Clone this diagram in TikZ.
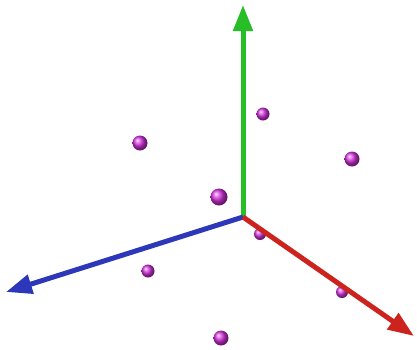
\documentclass[tikz,border=0pt]{standalone}
\usepackage{tikz}
\usetikzlibrary{arrows.meta}
\definecolor{atomcol}{RGB}{215,50,225}
\definecolor{axred}{RGB}{205,35,30}
\definecolor{axgreen}{RGB}{40,190,40}
\definecolor{axblue}{RGB}{45,55,185}
\begin{document}
\begin{tikzpicture}[x=1pt,y=-1pt,
  atom/.style={circle,inner sep=0pt,minimum size=#1,ball color=atomcol},
  atom/.default=13pt,
  axis/.style={line width=5pt,-{Triangle[length=26pt,width=19pt]}}]
\useasboundingbox (0,0) rectangle (417,349);
\coordinate (O) at (243,217);
\coordinate (xtip) at (414,336);
\coordinate (ytip) at (243,5);
\coordinate (ztip) at (6,292);
\node[atom=12pt] (a5) at (260,234) {};
\node[atom=12pt] (a7) at (342,292) {};
\draw[axis,axgreen] (O)--(ytip);
\draw[axis,axblue] (O)--(ztip);
\draw[axis,axred] (O)--(xtip);
\node[atom=13pt] (a1) at (263,114) {};
\node[atom=15pt] (a2) at (140,143) {};
\node[atom=15pt] (a3) at (352,159) {};
\node[atom=17pt] (a4) at (219,197) {};
\node[atom=13pt] (a6) at (148,271) {};
\node[atom=15pt] (a8) at (221,338) {};
\end{tikzpicture}
\end{document}
